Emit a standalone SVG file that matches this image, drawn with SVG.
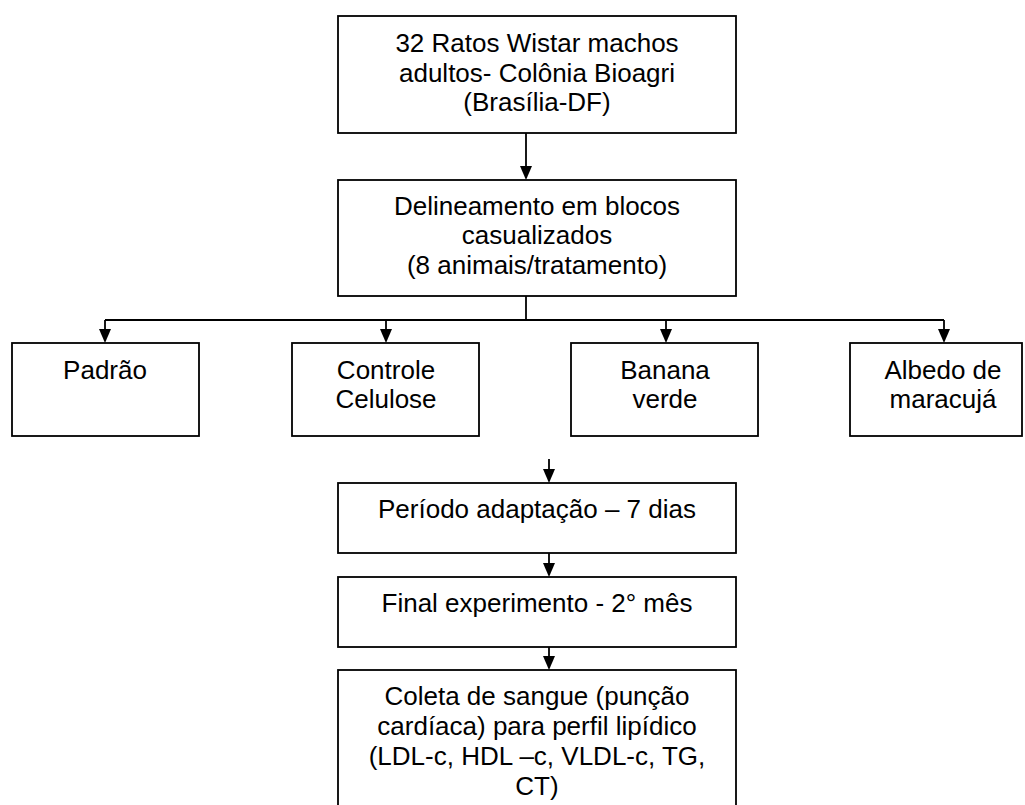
<svg xmlns="http://www.w3.org/2000/svg" width="1025" height="805" viewBox="0 0 1025 805">
<style>
.box{fill:#fff;stroke:#000;stroke-width:1.8}
.t{font-family:"Liberation Sans",Arial,sans-serif;font-size:26px;fill:#000;text-anchor:middle}
.c{stroke:#000;stroke-width:1.8;fill:none}
</style>
<defs>
<marker id="ah" markerWidth="12" markerHeight="14" refX="6" refY="14" orient="auto-start-reverse" markerUnits="userSpaceOnUse" viewBox="0 0 12 14">
<path d="M0,0 L12,0 L6,14 Z" fill="#000"/>
</marker>
</defs>
<rect width="1025" height="805" fill="#fff"/>
<g id="connectors">
<line class="c" x1="526" y1="133" x2="526" y2="166"/>
<path d="M520,166 L532,166 L526,180 Z"/>
<line class="c" x1="526" y1="296" x2="526" y2="320"/>
<line class="c" x1="105" y1="320" x2="944" y2="320"/>
<line class="c" x1="105" y1="320" x2="105" y2="330"/>
<path d="M99,329 L111,329 L105,343 Z"/>
<line class="c" x1="386" y1="320" x2="386" y2="330"/>
<path d="M380,329 L392,329 L386,343 Z"/>
<line class="c" x1="666" y1="320" x2="666" y2="330"/>
<path d="M660,329 L672,329 L666,343 Z"/>
<line class="c" x1="944" y1="320" x2="944" y2="330"/>
<path d="M938,329 L950,329 L944,343 Z"/>
<line class="c" x1="549" y1="459" x2="549" y2="470"/>
<path d="M543,469 L555,469 L549,483 Z"/>
<line class="c" x1="549" y1="553" x2="549" y2="564"/>
<path d="M543,563 L555,563 L549,577 Z"/>
<line class="c" x1="549" y1="647" x2="549" y2="657"/>
<path d="M543,656 L555,656 L549,670 Z"/>
</g>
<g id="n1">
<rect class="box" x="338" y="16" width="398" height="117"/>
<text class="t" x="537" y="52">32 Ratos Wistar machos</text>
<text class="t" x="537" y="82">adultos- Colônia Bioagri</text>
<text class="t" x="537" y="111">(Brasília-DF)</text>
</g>
<g id="n2">
<rect class="box" x="338" y="180" width="398" height="116"/>
<text class="t" x="537" y="215">Delineamento em blocos</text>
<text class="t" x="537" y="244">casualizados</text>
<text class="t" x="537" y="274">(8 animais/tratamento)</text>
</g>
<g id="n3">
<rect class="box" x="12" y="343" width="187" height="93"/>
<text class="t" x="105" y="379">Padrão</text>
</g>
<g id="n4">
<rect class="box" x="292" y="343" width="187" height="93"/>
<text class="t" x="386" y="379">Controle</text>
<text class="t" x="386" y="408">Celulose</text>
</g>
<g id="n5">
<rect class="box" x="571" y="343" width="187" height="93"/>
<text class="t" x="665" y="379">Banana</text>
<text class="t" x="665" y="408">verde</text>
</g>
<g id="n6">
<rect class="box" x="850" y="343" width="172" height="93"/>
<text class="t" x="943" y="379">Albedo de</text>
<text class="t" x="943" y="408">maracujá</text>
</g>
<g id="n7">
<rect class="box" x="338" y="483" width="398" height="70"/>
<text class="t" x="537" y="518">Período adaptação – 7 dias</text>
</g>
<g id="n8">
<rect class="box" x="338" y="577" width="398" height="70"/>
<text class="t" x="537" y="612">Final experimento - 2° mês</text>
</g>
<g id="n9">
<rect class="box" x="338" y="670" width="398" height="140"/>
<text class="t" x="537" y="705">Coleta de sangue (punção</text>
<text class="t" x="537" y="735">cardíaca) para perfil lipídico</text>
<text class="t" x="537" y="765">(LDL-c, HDL –c, VLDL-c, TG,</text>
<text class="t" x="537" y="795">CT)</text>
</g>
</svg>
